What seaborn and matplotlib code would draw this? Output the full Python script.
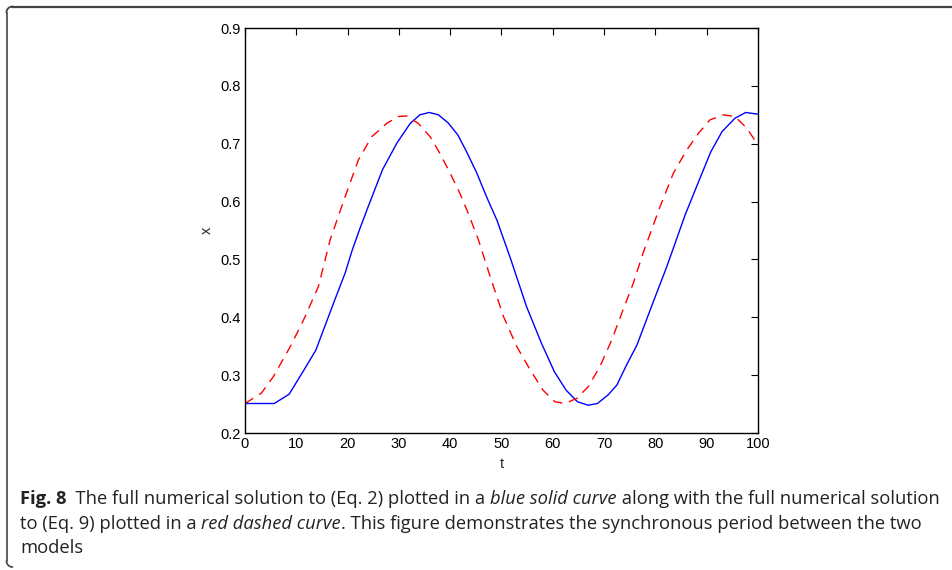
import numpy as np
import pandas as pd
import matplotlib
matplotlib.use("Agg")
import matplotlib.pyplot as plt
import seaborn as sns
from matplotlib.lines import Line2D

# ---- data ----
t_blue = [0, 5.7, 8.6, 11.5, 13.8, 17.5, 19.5, 20.9, 22.3, 24.0, 26.8, 29.6, 32.2, 34.1,
          35.9, 37.7, 39.6, 41.5, 43.2, 45.2, 47.1, 49.1, 51.7, 54.9, 57.8, 60.3, 62.6,
          64.8, 66.9, 68.7, 70.8, 72.5, 74.4, 76.4, 79.6, 82.2, 85.8, 88.4, 90.8, 93.0,
          95.5, 97.6, 100]
x_blue = [0.251, 0.251, 0.267, 0.309, 0.343, 0.430, 0.476, 0.516, 0.551, 0.591, 0.655, 0.701,
          0.735, 0.750, 0.754, 0.750, 0.736, 0.715, 0.686, 0.649, 0.608, 0.568, 0.503,
          0.418, 0.355, 0.306, 0.274, 0.254, 0.248, 0.251, 0.266, 0.283, 0.318, 0.352,
          0.427, 0.487, 0.577, 0.634, 0.686, 0.721, 0.744, 0.754, 0.751]

t_red = [0, 3.2, 5.5, 8.8, 11.4, 14.3, 16.6, 19.5, 22.1, 24.7, 27.6, 29.9, 31.5, 33.8, 36.1,
         38.0, 40.0, 41.9, 43.5, 45.5, 47.8, 50.4, 53.0, 55.6, 58.1, 60.4, 62.4, 64.7,
         66.9, 69.2, 71.5, 73.7, 75.7, 77.6, 80.9, 83.5, 86.1, 88.4, 90.6, 93.2, 95.5,
         97.8, 100]
x_red = [0.251, 0.269, 0.297, 0.349, 0.395, 0.453, 0.534, 0.608, 0.672, 0.712, 0.735, 0.747,
         0.748, 0.735, 0.712, 0.683, 0.649, 0.614, 0.580, 0.534, 0.470, 0.401, 0.349,
         0.309, 0.274, 0.254, 0.251, 0.260, 0.280, 0.315, 0.361, 0.413, 0.459, 0.511,
         0.591, 0.649, 0.689, 0.718, 0.741, 0.750, 0.747, 0.727, 0.698]

x_ticks = [0, 10, 20, 30, 40, 50, 60, 70, 80, 90, 100]
y_ticks = [0.2, 0.3, 0.4, 0.5, 0.6, 0.7, 0.8, 0.9]
y_ticklabels = ["0.2", "0.3", "0.4", "0.5", "0.6", "0.7", "0.8", "0.9"]

caption_lines = [
    [("Fig. 8", "bold", "normal"), ("  The full numerical solution to (Eq. 2) plotted in a ", "normal", "normal"),
     ("blue solid curve", "normal", "italic"), (" along with the full numerical solution", "normal", "normal")],
    [("to (Eq. 9) plotted in a ", "normal", "normal"), ("red dashed curve", "normal", "italic"),
     (". This figure demonstrates the synchronous period between the two", "normal", "normal")],
    [("models", "normal", "normal")],
]

# ---- figure ----
sns.set_style("white")
plt.rcParams["font.family"] = ["Liberation Sans", "DejaVu Sans"]

W, H = 953, 570
fig = plt.figure(figsize=(W / 100, H / 100), dpi=100)
ax = fig.add_axes([245 / W, 1 - 433 / H, (758 - 245) / W, (433 - 28) / H])

df_b = pd.DataFrame({"t": t_blue, "x": x_blue})
df_r = pd.DataFrame({"t": t_red, "x": x_red})
sns.lineplot(data=df_b, x="t", y="x", ax=ax, color="#0000ff", linewidth=1.0, sort=False)
sns.lineplot(data=df_r, x="t", y="x", ax=ax, color="#ff0000", linewidth=1.0, sort=False,
             dashes=False)
ax.lines[-1].set_dashes([7, 5])

ax.set_xlim(0, 100)
ax.set_ylim(0.2, 0.9)
ax.set_xticks(x_ticks)
ax.set_xticklabels([str(v) for v in x_ticks])
ax.set_yticks(y_ticks)
ax.set_yticklabels(y_ticklabels)
ax.tick_params(direction="in", length=5, width=0.8, top=True, right=True,
               labelsize=10.5, colors="black", pad=3)
for s in ax.spines.values():
    s.set_visible(True)
    s.set_color("black")
    s.set_linewidth(1.0)
ax.set_xlabel("t", fontsize=10.5, labelpad=4)
ax.set_ylabel("x", fontsize=10.5, labelpad=5)

# ---- frame (top line + left line with rounded corners) ----
frame_col = "#444444"
r = 6
fig.add_artist(Line2D([(6.5 + r) / W, 1.0], [1 - 6.5 / H] * 2, transform=fig.transFigure,
                      color=frame_col, lw=1.6))
fig.add_artist(Line2D([6.5 / W] * 2, [1 - (6.5 + r) / H, 1 - (567 - r) / H],
                      transform=fig.transFigure, color=frame_col, lw=1.2))
th = np.linspace(np.pi / 2, np.pi, 20)
fig.add_artist(Line2D((6.5 + r + r * np.cos(th)) / W, 1 - (6.5 + r - r * np.sin(th)) / H,
                      transform=fig.transFigure, color=frame_col, lw=1.3))
th2 = np.linspace(np.pi, 1.5 * np.pi, 20)
fig.add_artist(Line2D((6.5 + r + r * np.cos(th2)) / W, 1 - (567 - r - r * np.sin(th2)) / H,
                      transform=fig.transFigure, color=frame_col, lw=1.2))

# ---- caption ----
renderer = fig.canvas.get_renderer()
baselines = [504, 529, 553]
cap_size = 13.2
for line, yb in zip(caption_lines, baselines):
    xpos = 20 / W
    for txt, wt, st in line:
        tobj = fig.text(xpos, 1 - yb / H, txt, fontsize=cap_size, fontweight=wt, fontstyle=st,
                        family=["Open Sans", "DejaVu Sans"], va="baseline", ha="left",
                        color="#222222")
        bb = tobj.get_window_extent(renderer=renderer)
        xpos = bb.x1 / W

fig.savefig("out.png", dpi=100)
